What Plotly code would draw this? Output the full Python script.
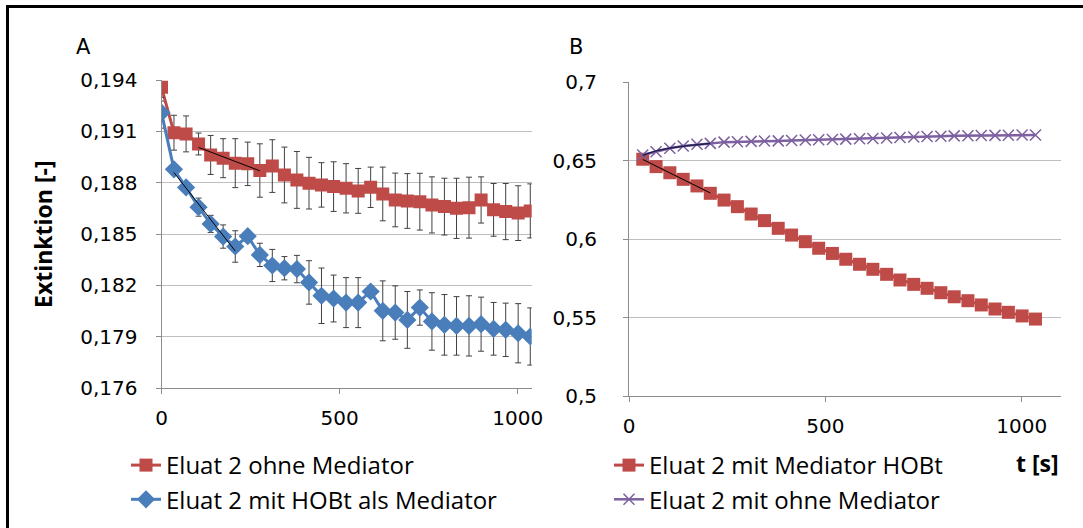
import numpy as np
import plotly.graph_objects as go

# ---------------- data ----------------
t_a = [0, 35, 69, 104, 138, 173, 207, 242, 276, 311, 345, 380, 414, 449, 483, 518,
       552, 587, 621, 656, 690, 725, 759, 794, 828, 863, 897, 932, 966, 1001, 1035]
t_b = [35, 69, 104, 138, 173, 207, 242, 276, 311, 345, 380, 414, 449, 483, 518,
       552, 587, 621, 656, 690, 725, 759, 794, 828, 863, 897, 932, 966, 1001, 1035]

ohne_a = [0.19357, 0.19092, 0.19085, 0.19026, 0.18962, 0.18943, 0.18914, 0.18910, 0.18871, 0.18897,
          0.18845, 0.18816, 0.18797, 0.18787, 0.18777, 0.18767, 0.18752, 0.18773, 0.18734, 0.18699,
          0.18693, 0.18689, 0.18670, 0.18660, 0.18650, 0.18654, 0.18699, 0.18641, 0.18631, 0.18622, 0.18635]
ohne_a_err = [0.0008, 0.00102, 0.00105, 0.00064, 0.00114, 0.00114, 0.00143, 0.00127, 0.00156, 0.00154,
              0.00163, 0.00166, 0.00151, 0.0013, 0.00145, 0.00144, 0.00131, 0.00118, 0.00157, 0.00157,
              0.0016, 0.00166, 0.00164, 0.00166, 0.00176, 0.00178, 0.00135, 0.00154, 0.00164, 0.0016, 0.00158]

hobt_a = [0.19209, 0.18878, 0.18772, 0.18657, 0.18559, 0.18485, 0.18427, 0.18487, 0.18378, 0.18316,
          0.18300, 0.18295, 0.18217, 0.18139, 0.18123, 0.18099, 0.18099, 0.18164, 0.18051, 0.18041,
          0.17998, 0.18070, 0.17989, 0.17969, 0.17963, 0.17963, 0.17973, 0.17946, 0.17940, 0.17920, 0.17901]
hobt_a_err = [0.0009, 0.0002, 0.0002, 0.00053, 0.0005, 0.00068, 0.00092, 0.0003, 0.00068, 0.00094,
              0.00068, 0.0008, 0.00127, 0.00162, 0.00137, 0.00146, 0.00146, 0.0003, 0.00175, 0.00156,
              0.00166, 0.00103, 0.00168, 0.00177, 0.00171, 0.00176, 0.00158, 0.00154, 0.00156, 0.00173, 0.00167]

hobt_b = [0.6508, 0.6461, 0.6422, 0.6380, 0.6338, 0.6291, 0.6248, 0.6206, 0.6159, 0.6117,
          0.6068, 0.6025, 0.5983, 0.5941, 0.5908, 0.5871, 0.5839, 0.5807, 0.5775, 0.5739,
          0.5711, 0.5686, 0.5658, 0.5632, 0.5607, 0.5580, 0.5554, 0.5533, 0.5510, 0.5490]
ohne_b = [0.6535, 0.6556, 0.6578, 0.6592, 0.6603, 0.6609, 0.6617, 0.6620, 0.6622, 0.6624,
          0.6625, 0.6627, 0.6630, 0.6632, 0.6634, 0.6636, 0.6638, 0.6640, 0.6643, 0.6646,
          0.6650, 0.6653, 0.6655, 0.6657, 0.6658, 0.6659, 0.6660, 0.6661, 0.6662, 0.6662]

names_a = ["Eluat 2 ohne Mediator", "Eluat 2 mit HOBt als Mediator"]
names_b = ["Eluat 2 mit Mediator HOBt", "Eluat 2 mit ohne Mediator"]

RED = "#BE4B48"
BLUE = "#4A7EBB"
PURPLE = "#7D60A0"
TICKFONT = dict(family="DejaVu Sans", size=20, color="#000000")
LEGFONT = dict(family="Open Sans", size=24, color="#000000")

fig = go.Figure()

# Panel A
fig.add_trace(go.Scatter(
    x=t_a, y=ohne_a, mode="lines+markers", name=names_a[0],
    line=dict(color=RED, width=3), marker=dict(symbol="square", size=13, color=RED),
    error_y=dict(type="data", array=ohne_a_err, visible=True, color="#404040", thickness=1, width=3),
    xaxis="x", yaxis="y", legend="legend"))
fig.add_trace(go.Scatter(
    x=t_a, y=hobt_a, mode="lines+markers", name=names_a[1],
    line=dict(color=BLUE, width=3), marker=dict(symbol="diamond", size=14, color=BLUE),
    error_y=dict(type="data", array=hobt_a_err, visible=True, color="#404040", thickness=1, width=3),
    xaxis="x", yaxis="y", legend="legend"))

# linear trend lines panel A
ta = np.array(t_a, dtype=float)
c1 = np.polyfit(ta[3:9], np.array(ohne_a[3:9]), 1)
fig.add_trace(go.Scatter(x=[ta[3], ta[8]], y=np.polyval(c1, [ta[3], ta[8]]), mode="lines",
                         line=dict(color="#000000", width=1), showlegend=False, hoverinfo="skip",
                         xaxis="x", yaxis="y"))
c2 = np.polyfit(ta[1:7], np.array(hobt_a[1:7]), 1)
fig.add_trace(go.Scatter(x=[ta[1], ta[6]], y=np.polyval(c2, [ta[1], ta[6]]), mode="lines",
                         line=dict(color="#000000", width=1), showlegend=False, hoverinfo="skip",
                         xaxis="x", yaxis="y"))

# Panel B
fig.add_trace(go.Scatter(
    x=t_b, y=hobt_b, mode="lines+markers", name=names_b[0],
    line=dict(color=RED, width=3), marker=dict(symbol="square", size=13, color=RED),
    xaxis="x2", yaxis="y2", legend="legend2"))
fig.add_trace(go.Scatter(
    x=t_b, y=ohne_b, mode="lines+markers", name=names_b[1],
    line=dict(color=PURPLE, width=2.5),
    marker=dict(symbol="x-thin-open", size=11, color=PURPLE, line=dict(color=PURPLE, width=1.5)),
    xaxis="x2", yaxis="y2", legend="legend2"))

tb = np.array(t_b, dtype=float)
c3 = np.polyfit(tb[0:6], np.array(hobt_b[0:6]), 1)
fig.add_trace(go.Scatter(x=[tb[0], tb[5]], y=np.polyval(c3, [tb[0], tb[5]]), mode="lines",
                         line=dict(color="#000000", width=1), showlegend=False, hoverinfo="skip",
                         xaxis="x2", yaxis="y2"))
c4 = np.polyfit(np.log(tb[0:6]), np.array(ohne_b[0:6]), 1)
fig.add_trace(go.Scatter(x=tb[0:6], y=np.polyval(c4, np.log(tb[0:6])), mode="lines",
                         line=dict(color="#1E1E50", width=1.5, shape="spline"), showlegend=False,
                         hoverinfo="skip", xaxis="x2", yaxis="y2"))

axis_common = dict(showline=True, linecolor="#8C8C8C", linewidth=1, ticks="outside",
                   tickcolor="#8C8C8C", ticklen=5, tickfont=TICKFONT, zeroline=False,
                   automargin=False)

fig.update_layout(
    width=1083, height=528,
    margin=dict(l=0, r=0, t=0, b=0, autoexpand=False),
    paper_bgcolor="white", plot_bgcolor="white",
    separators=",.",
    showlegend=True,
    xaxis=dict(domain=[161.5 / 1083, 531.7 / 1083], range=[0, 1039], tickvals=[0, 500, 1000],
               showgrid=False, anchor="y", ticklabelstandoff=7, **axis_common),
    yaxis=dict(domain=[(528 - 388) / 528, (528 - 80) / 528], range=[0.176, 0.194], dtick=0.003,
               tick0=0.176, tickformat=".3f", showgrid=True, gridcolor="#BEBEBE", gridwidth=1,
               anchor="x", ticklabelstandoff=14, **axis_common),
    xaxis2=dict(domain=[629 / 1083, 1061 / 1083], range=[0, 1100], tickvals=[0, 500, 1000],
                showgrid=False, anchor="y2", ticklabelstandoff=7, **axis_common),
    yaxis2=dict(domain=[(528 - 396) / 528, (528 - 82) / 528], range=[0.5, 0.7], dtick=0.05,
                tick0=0.5, showgrid=True, gridcolor="#BEBEBE", gridwidth=1, anchor="x2",
                ticklabelstandoff=22, **axis_common),
    legend=dict(x=126 / 1083, y=(528 - 443) / 528, xanchor="left", yanchor="top",
                font=LEGFONT, bgcolor="rgba(0,0,0,0)", itemwidth=30, tracegroupgap=0),
    legend2=dict(x=609 / 1083, y=(528 - 443) / 528, xanchor="left", yanchor="top",
                 font=LEGFONT, bgcolor="rgba(0,0,0,0)", itemwidth=30, tracegroupgap=0),
    shapes=[
        dict(type="line", xref="paper", yref="paper", x0=7.5 / 1083, x1=7.5 / 1083, y0=0,
             y1=(528 - 6) / 528, line=dict(color="black", width=3)),
        dict(type="line", xref="paper", yref="paper", x0=6 / 1083, x1=1, y0=(528 - 6.5) / 528,
             y1=(528 - 6.5) / 528, line=dict(color="black", width=3)),
    ],
    annotations=[
        dict(text="A", x=83 / 1083, y=(528 - 47) / 528, xref="paper", yref="paper",
             xanchor="center", yanchor="middle",
             showarrow=False, font=dict(family="DejaVu Sans", size=21, color="black")),
        dict(text="B", x=576 / 1083, y=(528 - 47) / 528, xref="paper", yref="paper",
             xanchor="center", yanchor="middle",
             showarrow=False, font=dict(family="DejaVu Sans", size=21, color="black")),
        dict(text="<b>Extinktion [-]</b>", x=43 / 1083, y=(528 - 234) / 528, xref="paper",
             yref="paper", showarrow=False, textangle=-90, xanchor="center", yanchor="middle",
             font=dict(family="Open Sans", size=23, color="black")),
        dict(text="<b>t [s]</b>", x=1037 / 1083, y=(528 - 463) / 528, xref="paper", yref="paper",
             showarrow=False, xanchor="center", yanchor="middle",
             font=dict(family="Open Sans", size=23, color="black")),
    ],
)

fig.write_html("out.html", config={"displayModeBar": False},
               post_script="document.body.style.margin='0px';")
